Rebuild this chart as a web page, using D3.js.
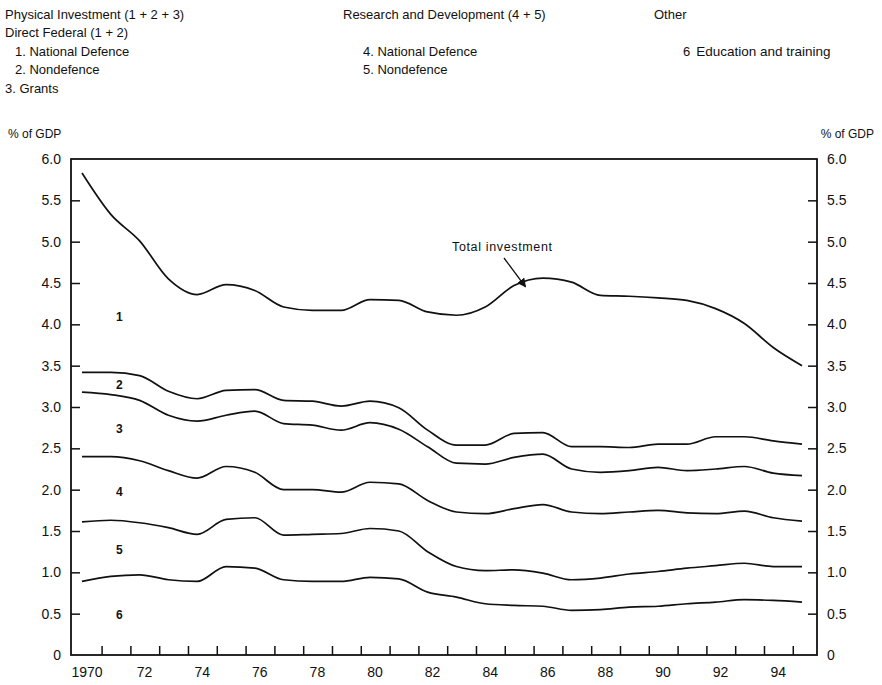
<!DOCTYPE html>
<html><head><meta charset="utf-8">
<script src="https://cdn.jsdelivr.net/npm/d3@7"></script>
<style>
body{margin:0;background:#fff;}
svg{display:block;font-family:"Liberation Sans",Arial,sans-serif;}
</style></head>
<body>
<svg id="c" width="882" height="685"></svg>
<script>
const years = d3.range(1970, 1996);
// components, % of GDP (stacked bottom-up: 6,5,4,3,2,1)
const nationalDefencePhysical = [2.41,1.91,1.63,1.36,1.26,1.28,1.20,1.13,1.10,1.16,1.23,1.30,1.43,1.57,1.67,1.79,1.87,1.99,1.83,1.83,1.77,1.74,1.55,1.37,1.13,0.95];
const nondefencePhysical     = [0.24,0.27,0.30,0.29,0.27,0.30,0.26,0.28,0.29,0.29,0.26,0.26,0.20,0.22,0.23,0.29,0.26,0.27,0.31,0.28,0.28,0.32,0.39,0.36,0.39,0.38];
const grants                 = [0.78,0.75,0.73,0.67,0.69,0.62,0.74,0.80,0.78,0.75,0.72,0.66,0.65,0.59,0.60,0.62,0.61,0.52,0.50,0.50,0.52,0.51,0.54,0.54,0.54,0.55];
const nationalDefenceRD      = [0.79,0.77,0.75,0.69,0.68,0.64,0.55,0.55,0.54,0.50,0.56,0.57,0.62,0.66,0.69,0.74,0.83,0.82,0.78,0.75,0.74,0.67,0.63,0.63,0.59,0.55];
const nondefenceRD           = [0.72,0.68,0.63,0.63,0.57,0.57,0.61,0.54,0.57,0.58,0.59,0.58,0.49,0.37,0.40,0.43,0.40,0.37,0.38,0.40,0.42,0.43,0.44,0.44,0.41,0.43];
const educationTraining      = [0.89,0.95,0.97,0.91,0.89,1.07,1.05,0.91,0.89,0.89,0.94,0.92,0.76,0.70,0.62,0.60,0.59,0.54,0.55,0.58,0.59,0.62,0.64,0.67,0.66,0.64];

const yTicks = [0,0.5,1,1.5,2,2.5,3,3.5,4,4.5,5,5.5,6];
const xLabelYears = [1970,1972,1974,1976,1978,1980,1982,1984,1986,1988,1990,1992,1994];
const xLabelText = ["1970","72","74","76","78","80","82","84","86","88","90","92","94"];
const bandLabels = ["1","2","3","4","5","6"];
const bandLabelY = [4.1,3.28,2.74,1.98,1.28,0.5];

const legendRows = [
  ["Physical Investment (1 + 2 + 3)", "Research and Development (4 + 5)", "Other"],
  ["Direct Federal (1 + 2)", "", ""],
  ["   1. National Defence", "4. National Defence", "6  Education and training"],
  ["   2. Nondefence", "5. Nondefence", ""],
  ["3. Grants", "", ""]
];

const keys = ["e","nr","nd","g","np","ndp"];
const table = years.map((yr,i)=>({year:yr, e:educationTraining[i], nr:nondefenceRD[i], nd:nationalDefenceRD[i], g:grants[i], np:nondefencePhysical[i], ndp:nationalDefencePhysical[i]}));
const stacked = d3.stack().keys(keys)(table);

const svg = d3.select("#c");
const L=71, R=817, T=159, B=655;
const x = d3.scaleLinear().domain([1970,1995]).range([82,802]);
const y = d3.scaleLinear().domain([0,6]).range([B,T]);

// legend
const colX = [5, 343, 654];
const rowY = [19, 37, 56, 74, 93];
legendRows.forEach((row,ri)=>{
  row.forEach((t,ci)=>{
    if(!t) return;
    let xx = colX[ci];
    let txt = t;
    if(t.startsWith("   ")){ xx = 15; txt = t.trim(); }
    if(ci===1 && ri>=2) xx = 363;
    if(ci===2 && ri>=2) xx = 683;
    const el = svg.append("text").attr("x",xx).attr("y",rowY[ri]).attr("font-size",13).attr("fill","#111");
    if(ci===2 && ri===2){
      el.append("tspan").text("6");
      el.append("tspan").attr("dx",6).text("Education and training").attr("font-size",13.5);
    } else {
      el.text(txt);
    }
  });
});

svg.append("text").attr("x",8).attr("y",138).attr("font-size",12).attr("fill","#111").text("% of GDP");
svg.append("text").attr("x",874).attr("y",138).attr("font-size",12).attr("fill","#111").attr("text-anchor","end").text("% of GDP");

// frame
svg.append("rect").attr("x",L).attr("y",T).attr("width",R-L).attr("height",B-T).attr("fill","none").attr("stroke","#111").attr("stroke-width",1.8);

// y axes
const fmt = v => v===0 ? "0" : d3.format(".1f")(v);
const yl = d3.axisLeft(y).tickValues(yTicks).tickSize(-9).tickPadding(10).tickFormat(fmt);
const gl = svg.append("g").attr("transform",`translate(${L},0)`).call(yl);
const yr = d3.axisRight(y).tickValues(yTicks).tickSize(-9).tickPadding(10).tickFormat(fmt);
const gr = svg.append("g").attr("transform",`translate(${R},0)`).call(yr);
[gl,gr].forEach(g=>{
  g.select(".domain").remove();
  g.selectAll(".tick line").attr("stroke","#111").attr("stroke-width",1.5);
  g.selectAll(".tick text").attr("font-size",14).attr("fill","#111").attr("font-family","Liberation Sans, Arial, sans-serif");
});
gl.selectAll(".tick").filter(d=>d===0||d===6).select("line").remove();
gr.selectAll(".tick").filter(d=>d===0||d===6).select("line").remove();

// x axis ticks (inward)
const xTickPos = years.slice(0,25).map(v=>v+0.68);
const xa = d3.axisBottom(x).tickValues(xTickPos).tickSize(-9).tickFormat("");
const gx = svg.append("g").attr("transform",`translate(0,${B})`).call(xa);
gx.select(".domain").remove();
gx.selectAll(".tick line").attr("stroke","#111").attr("stroke-width",1.5);

svg.selectAll(".xlab").data(xLabelYears).enter().append("text")
  .attr("x",(d)=>x(d)+5).attr("y",677).attr("text-anchor","middle")
  .attr("font-size",14).attr("fill","#111")
  .text((d,i)=>xLabelText[i]);

// lines
const line = d3.line().x(d=>x(d.data.year)).y(d=>y(d[1])).curve(d3.curveMonotoneX);
svg.selectAll(".ln").data(stacked).enter().append("path")
  .attr("d",d=>line(d)).attr("fill","none").attr("stroke","#111").attr("stroke-width",1.7);

// band labels
svg.selectAll(".bl").data(bandLabels).enter().append("text")
  .attr("x",x(1971.3)).attr("y",(d,i)=>y(bandLabelY[i])+5).attr("text-anchor","middle")
  .attr("font-size",12).attr("font-weight","bold").attr("fill","#111").text(d=>d);

// annotation
svg.append("text").attr("x",452).attr("y",251).attr("font-size",12.5).attr("fill","#111")
  .attr("textLength",100).attr("lengthAdjust","spacing").text("Total investment");
const defs = svg.append("defs");
defs.append("marker").attr("id","ah").attr("viewBox","0 0 10 10").attr("refX",9).attr("refY",5)
  .attr("markerWidth",7).attr("markerHeight",7).attr("orient","auto")
  .append("path").attr("d","M0,0L10,5L0,10z").attr("fill","#111");
svg.append("line").attr("x1",504).attr("y1",258).attr("x2",x(1985.4)).attr("y2",y(4.49)+3)
  .attr("stroke","#111").attr("stroke-width",1.3).attr("marker-end","url(#ah)");
</script>
</body></html>
